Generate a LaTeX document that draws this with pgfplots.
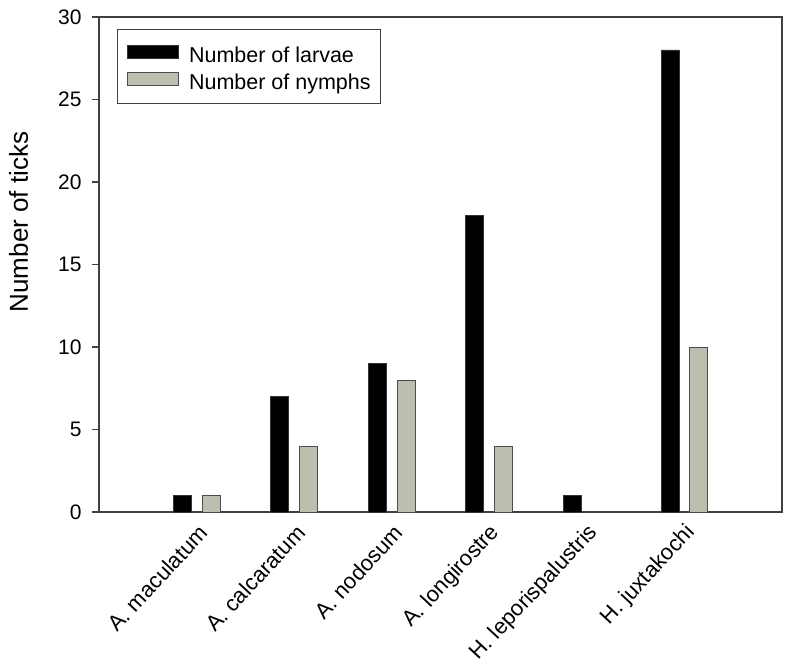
\documentclass[border=0pt]{standalone}
\usepackage{pgfplots}
\pgfplotsset{compat=1.18}
\usepackage{fontspec}
\setmainfont{Liberation Sans}
\definecolor{nymph}{RGB}{190,190,176}
\pgfplotsset{mypatch/.style={legend image code/.code={\draw[##1] (0pt,-6pt) rectangle (51pt,7pt); \path (61pt,0pt);}}}
\begin{document}
\begin{tikzpicture}
\begin{axis}[name=ax, scale only axis, width=683pt, height=495pt,
  xmin=-1, xmax=6, ymin=0, ymax=30,
  ytick={0,5,10,15,20,25,30},
  xtick={0,1,2,3,4,5},
  xticklabels={A. maculatum, A. calcaratum, A. nodosum, A. longirostre, H. leporispalustris, H. juxtakochi},
  major x tick style={draw=none},
  ytick pos=left, tick align=outside,
  major tick length=7pt,
  axis line style={line width=1.2pt, draw=black!75},
  y tick style={line width=1.2pt, draw=black!75},
  /pgf/number format/assume math mode=true,
  tick label style={font=\fontsize{21}{25}\selectfont},
  yticklabel style={xshift=-7pt},
  xticklabel style={xshift=7pt, yshift=-10pt, rotate=47, anchor=east, inner sep=0pt, font=\fontsize{22}{26}\selectfont},
  ylabel={Number of ticks},
  ylabel style={at={(ticklabel cs:0.586)}, font=\fontsize{26}{30}\selectfont},
  ylabel shift=23pt,
  ybar, bar width=0.184,
  legend style={at={(rel axis cs:0.026,0.976)}, anchor=north west,
    draw=black!75, line width=1pt, font=\fontsize{21.5}{25}\selectfont,
    inner xsep=10pt, inner ysep=8pt, row sep=-4pt,
    nodes={inner sep=0pt, text height=25.4pt, text depth=5.6pt}},
  legend cell align=left,
]
\addplot[ybar, bar shift=-0.148, fill=black, draw=black!80, line width=0.8pt, mypatch]
  coordinates {(0,1) (1,7) (2,9) (3,18) (4,1) (5,28)};
\addlegendentry{Number of larvae}
\addplot[ybar, bar shift=0.148, fill=nymph, draw=black!70, line width=0.8pt, mypatch]
  coordinates {(0,1) (1,4) (2,8) (3,4) (5,10)};
\addlegendentry{Number of nymphs}
\end{axis}
\path (ax.south west) ++(-99pt,-151pt) coordinate (bl);
\path (ax.north east) ++(13pt,17pt) coordinate (tr);
\path (bl) rectangle (tr);
\end{tikzpicture}
\end{document}
